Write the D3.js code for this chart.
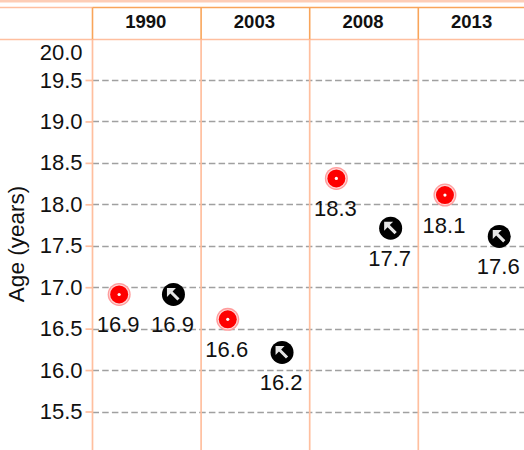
<!DOCTYPE html>
<html>
<head>
<meta charset="utf-8">
<script src="https://cdn.jsdelivr.net/npm/d3@7"></script>
<style>
    html, body { margin: 0; padding: 0; background: #fff; overflow: hidden; }
    svg { display: block; font-family: "Liberation Sans", Arial, sans-serif; }
</style>
</head>
<body>
<div id="chart"></div>
<script>
const years = ["1990", "2003", "2008", "2013"];
const seriesNames = ["a", "b"];
const redValues = [16.9, 16.6, 18.3, 18.1];
const blackValues = [16.9, 16.2, 17.7, 17.6];
const yTicks = [15.5, 16, 16.5, 17, 17.5, 18, 18.5, 19, 19.5, 20];

const width = 524, height = 450;
const marginLeft = 92.5, headerBottom = 39.5, headerTop = 7.5;

const lightOrange = "#ffbf9f";
const darkOrange = "#f9a55a";

const svg = d3.select("#chart")
    .append("svg")
    .attr("width", width)
    .attr("height", height);

//Scales
const xScale = d3.scaleBand()
    .domain(years)
    .range([marginLeft, marginLeft + 4 * 108.6]);

const xInner = d3.scaleBand()
    .domain(seriesNames)
    .range([0, xScale.bandwidth()]);

const yScale = d3.scaleLinear()
    .domain([15.5, 19.5])
    .range([411.5, 80]);

//Band along the top edge
svg.append("rect")
    .attr("width", width)
    .attr("height", 2.5)
    .attr("fill", "#fdcdb6");

//Gridlines
svg.append("g")
    .selectAll("line")
    .data(yTicks.filter(d => d < 20))
    .join("line")
    .attr("x1", marginLeft)
    .attr("x2", width)
    .attr("y1", d => Math.round(yScale(d)) + 0.5)
    .attr("y2", d => Math.round(yScale(d)) + 0.5)
    .attr("stroke", "#a0a0a0")
    .attr("stroke-width", 1.5)
    .attr("stroke-dasharray", "6.5,3.2");

//Table lines
const tableLines = svg.append("g");

tableLines.append("line")
    .attr("x1", 0).attr("x2", marginLeft)
    .attr("y1", headerTop).attr("y2", headerTop)
    .attr("stroke", lightOrange)
    .attr("stroke-width", 1.4);

tableLines.append("line")
    .attr("x1", marginLeft).attr("x2", width)
    .attr("y1", headerTop).attr("y2", headerTop)
    .attr("stroke", darkOrange)
    .attr("stroke-width", 1.4);

tableLines.append("line")
    .attr("x1", 0).attr("x2", width)
    .attr("y1", headerBottom).attr("y2", headerBottom)
    .attr("stroke", lightOrange)
    .attr("stroke-width", 1.7);

tableLines.selectAll(".col-head")
    .data(years)
    .join("line")
    .attr("class", "col-head")
    .attr("x1", d => xScale(d)).attr("x2", d => xScale(d))
    .attr("y1", headerTop).attr("y2", headerBottom)
    .attr("stroke", darkOrange)
    .attr("stroke-width", 1.6);

tableLines.selectAll(".col-body")
    .data(years)
    .join("line")
    .attr("class", "col-body")
    .attr("x1", d => xScale(d)).attr("x2", d => xScale(d))
    .attr("y1", headerBottom).attr("y2", height)
    .attr("stroke", lightOrange)
    .attr("stroke-width", 1.7);

//Header years
svg.append("g")
    .selectAll("text")
    .data(years)
    .join("text")
    .attr("x", d => xScale(d) + xScale.bandwidth() / 2 - 1)
    .attr("y", 28)
    .attr("text-anchor", "middle")
    .attr("font-size", "18.5px")
    .attr("font-weight", "bold")
    .attr("fill", "#111")
    .text(d => d);

//Y axis
const yAxis = d3.axisLeft(yScale)
    .tickValues(yTicks)
    .tickFormat(d3.format(".1f"))
    .tickSize(7)
    .tickPadding(3);

const axisG = svg.append("g")
    .attr("transform", `translate(${marginLeft}, 0)`)
    .call(yAxis)
    .call(g => g.select(".domain").remove());

axisG.selectAll("line")
    .attr("stroke", lightOrange)
    .attr("stroke-width", 1.7);

axisG.selectAll("text")
    .attr("font-size", "22px")
    .attr("font-family", "'Liberation Sans', Arial, sans-serif")
    .attr("fill", "#111");

//20.0 sits on the header line, so its label is pushed under it and has no tick
axisG.selectAll(".tick")
    .filter(d => d === 20)
    .attr("transform", "translate(0, 52.5)")
    .select("line").remove();

svg.append("text")
    .attr("transform", "translate(24, 244) rotate(-90)")
    .attr("text-anchor", "middle")
    .attr("font-size", "22.5px")
    .attr("fill", "#111")
    .text("Age (years)");

//Points
const redPoints = years.map((y, i) => ({ year: y, value: redValues[i] }));
const blackPoints = years.map((y, i) => ({ year: y, value: blackValues[i] }));

const redG = svg.append("g")
    .selectAll("g")
    .data(redPoints)
    .join("g")
    .attr("transform", d => `translate(${xScale(d.year) + xInner("a") + xInner.bandwidth() / 2 - 0.5}, ${yScale(d.value) - 1})`);

redG.append("circle").attr("r", 11.5).attr("fill", "#ff9c9c");
redG.append("circle").attr("r", 10.2).attr("fill", "#ffd6d6");
redG.append("circle").attr("r", 9).attr("fill", "#fe0000");
redG.append("circle").attr("r", 1.6).attr("fill", "#fff");

const blackG = svg.append("g")
    .selectAll("g")
    .data(blackPoints)
    .join("g")
    .attr("transform", d => `translate(${xScale(d.year) + xInner("b") + xInner.bandwidth() / 2 - 0.5}, ${yScale(d.value) - 1})`);

blackG.append("circle").attr("r", 11.5).attr("fill", "#000");

//Little arrow pointing to the upper left
blackG.append("path")
    .attr("d", "M-6.5,-6.5 L2.5,-6.5 L-0.9,-3.1 L6.1,3.9 L3.9,6.1 L-3.1,-0.9 L-6.5,2.5 Z")
    .attr("fill", "#e6e6e6");

//Value labels
[redG, blackG].forEach(g => {
    g.append("text")
        .attr("y", 38)
        .attr("x", -1)
        .attr("text-anchor", "middle")
        .attr("font-size", "22px")
        .attr("fill", "#111")
        .text(d => d3.format(".1f")(d.value));
});
</script>
</body>
</html>
